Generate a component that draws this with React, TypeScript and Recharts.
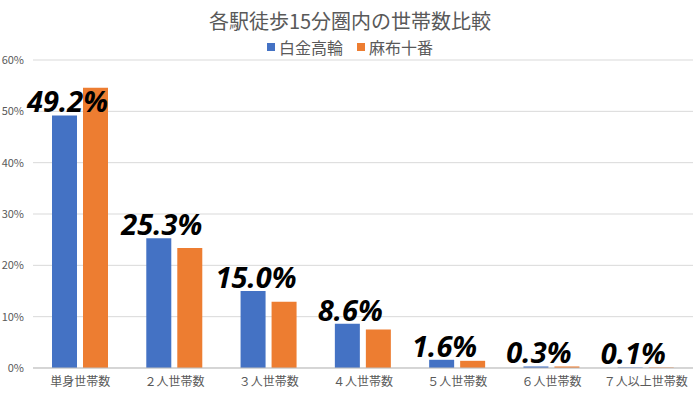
import React from 'react';
import {
  BarChart,
  Bar,
  XAxis,
  YAxis,
  CartesianGrid,
  LabelList,
} from 'recharts';

const categories = ['単身世帯数', '２人世帯数', '３人世帯数', '４人世帯数', '５人世帯数', '６人世帯数', '７人以上世帯数'];
const shirokane = [49.2, 25.3, 15.0, 8.6, 1.6, 0.3, 0.1];
const azabu = [54.6, 23.4, 12.9, 7.5, 1.4, 0.3, 0.1];
const yTicks = [0, 10, 20, 30, 40, 50, 60];

const data = categories.map((name, i) => ({
  name,
  shirokane: shirokane[i],
  azabu: azabu[i],
}));

const textColor = '#595959';
const font = '"Noto Sans CJK JP", "Noto Sans", sans-serif';

const BigLabel = (props: any) => {
  const { x, y, width, value } = props;
  return (
    <text
      x={x + width / 2 + 3}
      y={y - 3}
      textAnchor="middle"
      fontFamily='"Noto Sans", sans-serif'
      fontSize={29}
      fontWeight="bold"
      fontStyle="italic"
      fill="#000"
    >
      {value.toFixed(1)}%
    </text>
  );
};

export default function App() {
  return (
    <div style={{ width: 700, height: 394, background: '#fff', position: 'relative' }}>
      <style>{'body{margin:0}'}</style>
      <div
        style={{
          position: 'absolute',
          top: 7,
          width: 700,
          textAlign: 'center',
          fontFamily: font,
          fontSize: 20,
          color: textColor,
          lineHeight: '28px',
        }}
      >
        各駅徒歩15分圏内の世帯数比較
      </div>
      <div
        style={{
          position: 'absolute',
          top: 36,
          width: 700,
          display: 'flex',
          justifyContent: 'center',
          fontFamily: font,
          fontSize: 16,
          color: textColor,
          lineHeight: '22px',
        }}
      >
        <span style={{ display: 'flex', alignItems: 'center', marginRight: 14 }}>
          <span style={{ width: 8, height: 8, background: '#4472c4', marginRight: 4 }} />白金高輪
        </span>
        <span style={{ display: 'flex', alignItems: 'center' }}>
          <span style={{ width: 8, height: 8, background: '#ed7d31', marginRight: 4 }} />麻布十番
        </span>
      </div>
      <BarChart
        width={700}
        height={394}
        data={data}
        margin={{ top: 60, right: 7, left: 0, bottom: 0 }}
        barGap={6}
        barCategoryGap={19}
      >
        <CartesianGrid vertical={false} stroke="#d9d9d9" />
        <XAxis
          dataKey="name"
          height={26}
          tickLine={false}
          axisLine={{ stroke: '#bfbfbf' }}
          tickMargin={3}
          interval={0}
          tick={{ fill: textColor, fontSize: 12, fontFamily: font }}
        />
        <YAxis
          width={33}
          domain={[0, 60]}
          ticks={yTicks}
          tickFormatter={(v) => `${v}%`}
          tickLine={false}
          axisLine={false}
          tickMargin={3}
          tick={{ fill: textColor, fontSize: 11, fontFamily: font }}
        />
        <Bar dataKey="shirokane" name="白金高輪" fill="#4472c4" isAnimationActive={false}>
          <LabelList dataKey="shirokane" content={<BigLabel />} />
        </Bar>
        <Bar dataKey="azabu" name="麻布十番" fill="#ed7d31" isAnimationActive={false} />
      </BarChart>
    </div>
  );
}
